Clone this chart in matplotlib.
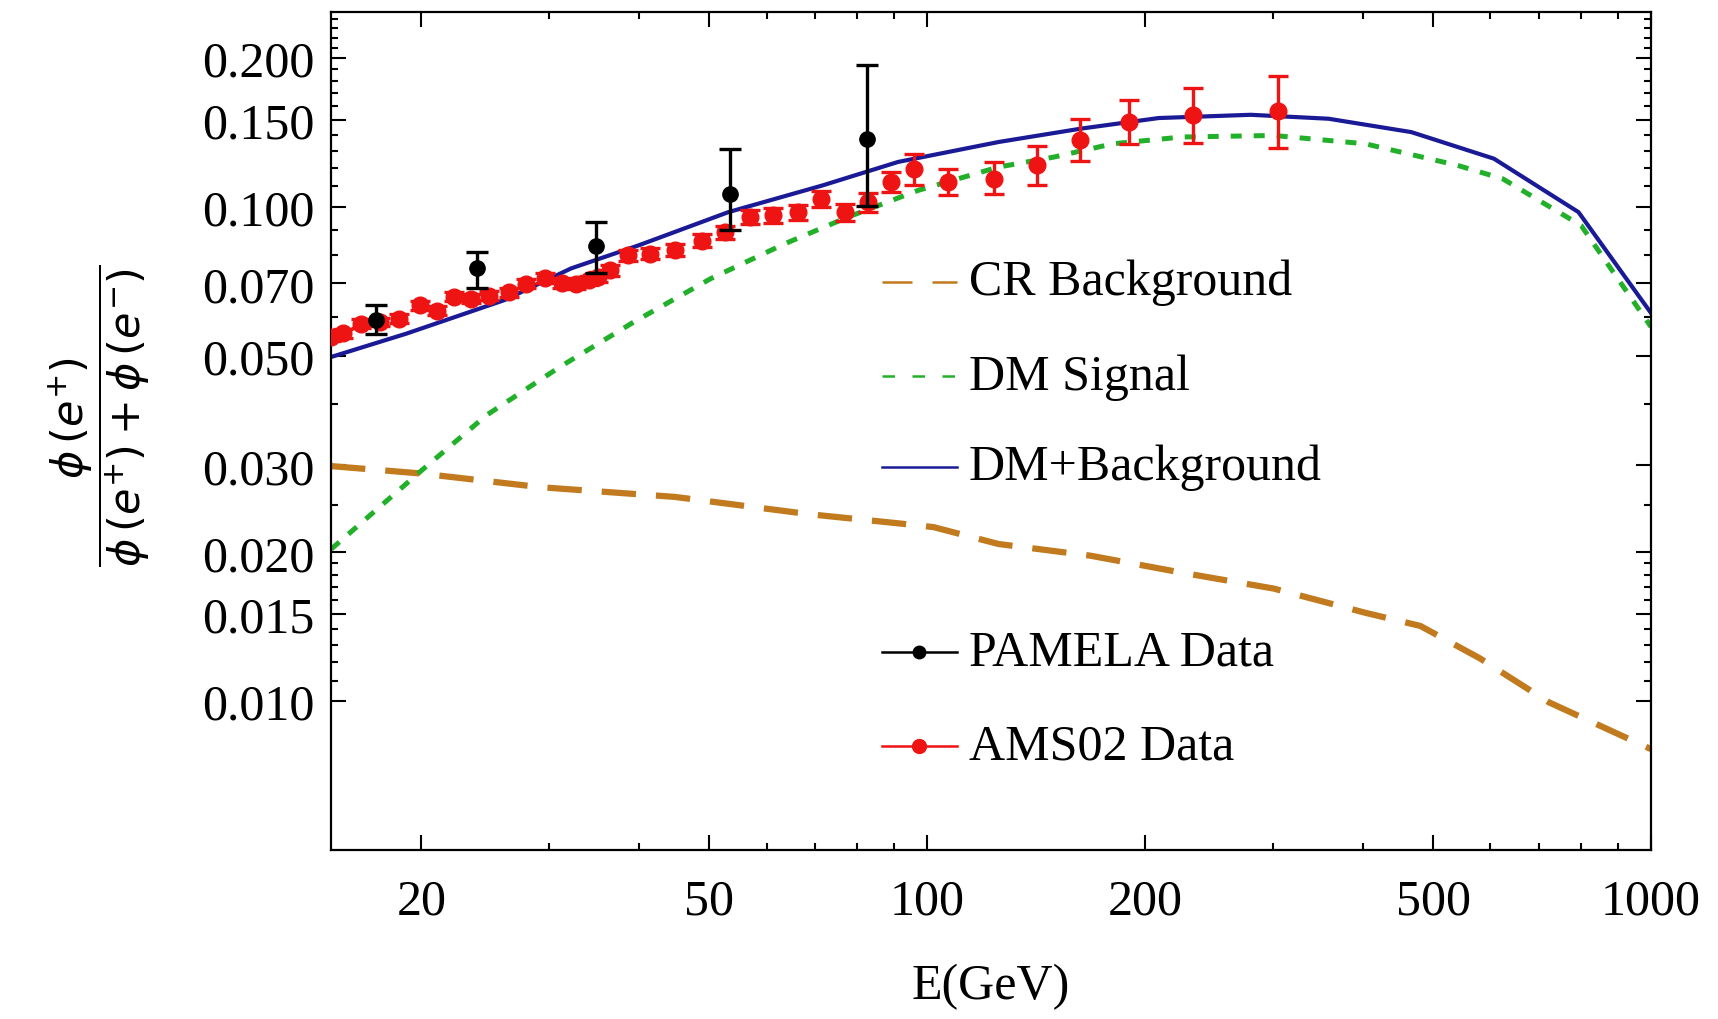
import numpy as np
import matplotlib
matplotlib.use("Agg")
import matplotlib.pyplot as plt
from matplotlib.ticker import FixedLocator, FixedFormatter, NullFormatter

plt.rcParams['font.family'] = ['Liberation Serif', 'DejaVu Serif']
plt.rcParams['mathtext.fontset'] = 'custom'
plt.rcParams['mathtext.rm'] = 'DejaVu Sans'
plt.rcParams['mathtext.it'] = 'DejaVu Sans:italic'

# PAMELA positron fraction (value, lower and upper end of error bar)
pamela_e = [17.3, 23.9, 34.8, 53.3, 82.5]
pamela_f = [0.0591, 0.0751, 0.0832, 0.1063, 0.1372]
pamela_lo = [0.0553, 0.0686, 0.0736, 0.0898, 0.1005]
pamela_hi = [0.0632, 0.0811, 0.0931, 0.1310, 0.1940]

# AMS02 positron fraction
ams_e = [15.0, 15.6, 16.5, 17.5, 18.6, 19.9, 21.0, 22.2, 23.4, 24.8,
         26.4, 27.9, 29.6, 31.3, 32.7, 34.1, 35.1, 36.4, 38.6, 41.4,
         44.8, 48.8, 52.5, 56.8, 61.3, 66.2, 71.4, 76.9, 82.8, 89.0,
         95.9, 106.7, 123.8, 141.8, 162.5, 190.1, 232.9, 305.5]
ams_f = [0.0545, 0.0555, 0.0580, 0.0585, 0.0594, 0.0632, 0.0617, 0.0658, 0.0652, 0.0661,
         0.0672, 0.0699, 0.0718, 0.0701, 0.0699, 0.0710, 0.0721, 0.0744, 0.0799, 0.0804,
         0.0817, 0.0855, 0.0889, 0.0955, 0.0961, 0.0976, 0.1039, 0.0976, 0.1023, 0.1123,
         0.1191, 0.1123, 0.1140, 0.1217, 0.1367, 0.1484, 0.1531, 0.1563]
ams_lo = [0.0535, 0.0544, 0.0568, 0.0573, 0.0582, 0.0619, 0.0604, 0.0644, 0.0638, 0.0647,
          0.0657, 0.0684, 0.0702, 0.0685, 0.0683, 0.0694, 0.0704, 0.0726, 0.0779, 0.0783,
          0.0794, 0.0830, 0.0862, 0.0924, 0.0928, 0.0941, 0.1000, 0.0936, 0.0978, 0.1070,
          0.1105, 0.1055, 0.1063, 0.1109, 0.1236, 0.1343, 0.1349, 0.1317]
ams_hi = [0.0556, 0.0566, 0.0592, 0.0597, 0.0606, 0.0645, 0.0630, 0.0672, 0.0666, 0.0675,
          0.0687, 0.0714, 0.0734, 0.0717, 0.0715, 0.0726, 0.0738, 0.0762, 0.0819, 0.0825,
          0.0840, 0.0880, 0.0916, 0.0986, 0.0994, 0.1011, 0.1078, 0.1016, 0.1068, 0.1176,
          0.1281, 0.1196, 0.1233, 0.1331, 0.1504, 0.1642, 0.1740, 0.1837]

# model curves
bg_e = [15, 19.9, 29.2, 44.8, 68.6, 91.2, 102, 125.4, 167.9, 224.7, 301, 402.7, 480, 580.7, 722.5, 1000]
bg_f = [0.0299, 0.0289, 0.0271, 0.0259, 0.0239, 0.0229, 0.0225, 0.0208, 0.0197, 0.0182,
        0.0169, 0.0151, 0.0142, 0.0122, 0.00995, 0.0080]

dm_e = [15, 19.9, 24.6, 31.1, 39.3, 50.2, 63.5, 77.7, 97.1, 125.4, 149.4, 180.5, 224.7, 301,
        402.7, 539.8, 623.9, 800.7, 1000]
dm_f = [0.0203, 0.0291, 0.0379, 0.0475, 0.0585, 0.0716, 0.0842, 0.0954, 0.1080, 0.1204, 0.1261,
        0.1342, 0.1385, 0.1395, 0.1342, 0.1214, 0.1140, 0.0917, 0.0572]

tot_e = [15, 19.05, 26.05, 32.2, 39.9, 53.1, 71.6, 91.1, 125.4, 163, 208.8, 279.9, 358.5,
         466.4, 606.7, 794, 1000]
tot_f = [0.0497, 0.0554, 0.0648, 0.0751, 0.0836, 0.0976, 0.1105, 0.1233, 0.1353, 0.1440,
         0.1513, 0.1536, 0.1508, 0.1417, 0.1252, 0.0976, 0.0610]

y_ticks = [0.010, 0.015, 0.020, 0.030, 0.050, 0.070, 0.100, 0.150, 0.200]
y_minor = [0.011, 0.012, 0.013, 0.014, 0.016, 0.017, 0.018, 0.019, 0.025, 0.04, 0.06,
           0.08, 0.09, 0.11, 0.12, 0.13, 0.14, 0.16, 0.17, 0.18, 0.19, 0.21, 0.22, 0.23, 0.24]
x_ticks = [20, 50, 100, 200, 500, 1000]
x_minor = [30, 40, 60, 70, 80, 90, 300, 400, 600, 700, 800, 900]

c_bg = '#c27a1f'
c_dm = '#22b02a'
c_tot = '#1a1a96'
c_ams = '#ee1414'

fig = plt.figure(figsize=(17.18, 10.2), dpi=100)
ax = fig.add_axes([0.1927, 0.1657, 0.9610 - 0.1927, 0.9873 - 0.1657])
ax.set_xscale('log')
ax.set_yscale('log')

line_bg, = ax.plot(bg_e, bg_f, color=c_bg, lw=4.5)
line_bg.set_dashes((5.5, 3.2))
line_dm, = ax.plot(dm_e, dm_f, color=c_dm, lw=3.6)
line_dm.set_dashes((2.2, 2.4))
ax.plot(tot_e, tot_f, color=c_tot, lw=3.0)

ams_f_arr = np.array(ams_f)
ax.errorbar(ams_e, ams_f, yerr=[ams_f_arr - np.array(ams_lo), np.array(ams_hi) - ams_f_arr],
            fmt='o', color=c_ams, ms=12, elinewidth=2.4, capsize=7, capthick=2.4, zorder=4)
pam_f_arr = np.array(pamela_f)
ax.errorbar(pamela_e, pamela_f, yerr=[pam_f_arr - np.array(pamela_lo), np.array(pamela_hi) - pam_f_arr],
            fmt='o', color='black', ms=11, elinewidth=2.4, capsize=8, capthick=2.4, zorder=5)

ax.set_xlim(15, 1000)
ax.set_ylim(0.005, 0.248)

ax.xaxis.set_major_locator(FixedLocator(x_ticks))
ax.xaxis.set_major_formatter(FixedFormatter([str(v) for v in x_ticks]))
ax.xaxis.set_minor_locator(FixedLocator(x_minor))
ax.xaxis.set_minor_formatter(NullFormatter())
ax.yaxis.set_major_locator(FixedLocator(y_ticks))
ax.yaxis.set_major_formatter(FixedFormatter(['%.3f' % v for v in y_ticks]))
ax.yaxis.set_minor_locator(FixedLocator(y_minor))
ax.yaxis.set_minor_formatter(NullFormatter())

ax.tick_params(which='both', direction='in', top=True, right=True, width=1.5, labelsize=36)
ax.tick_params(which='major', length=11)
ax.tick_params(which='minor', length=5)
ax.tick_params(axis='x', which='major', pad=20)
ax.tick_params(axis='y', which='major', pad=12)
for s in ax.spines.values():
    s.set_linewidth(1.6)

ax.set_xlabel('E(GeV)', fontsize=36, labelpad=28)
ax.set_ylabel(r'$\dfrac{\mathit{ϕ}\,(\mathit{e}^{+})}{\mathit{ϕ}\,(\mathit{e}^{+})+\mathit{ϕ}\,(\mathit{e}^{-})}$',
              fontsize=31)
ax.yaxis.set_label_coords(-0.136, 0.519)

# legend drawn in axes coordinates
hx = [0.4174, 0.4742]
tx = 0.4833
rows = [0.678, 0.565, 0.457, 0.236, 0.124]
l1, = ax.plot(hx, [rows[0]] * 2, color=c_bg, lw=1.8, transform=ax.transAxes)
l1.set_dashes((12, 8))
l2, = ax.plot(hx, [rows[1]] * 2, color=c_dm, lw=1.8, transform=ax.transAxes)
l2.set_dashes((5, 7))
ax.plot(hx, [rows[2]] * 2, color=c_tot, lw=1.8, transform=ax.transAxes)
ax.plot([hx[0], sum(hx) / 2, hx[1]], [rows[3]] * 3, color='black', lw=1.8, marker='o',
        markevery=[1], ms=9, transform=ax.transAxes)
ax.plot([hx[0], sum(hx) / 2, hx[1]], [rows[4]] * 3, color=c_ams, lw=1.8, marker='o',
        markevery=[1], ms=10, transform=ax.transAxes)
labels = ['CR Background', 'DM Signal', 'DM+Background', 'PAMELA Data', 'AMS02 Data']
for r, lab in zip(rows, labels):
    ax.text(tx, r, lab, fontsize=36, transform=ax.transAxes, va='center', ha='left')

fig.savefig('out.png', dpi=100)
